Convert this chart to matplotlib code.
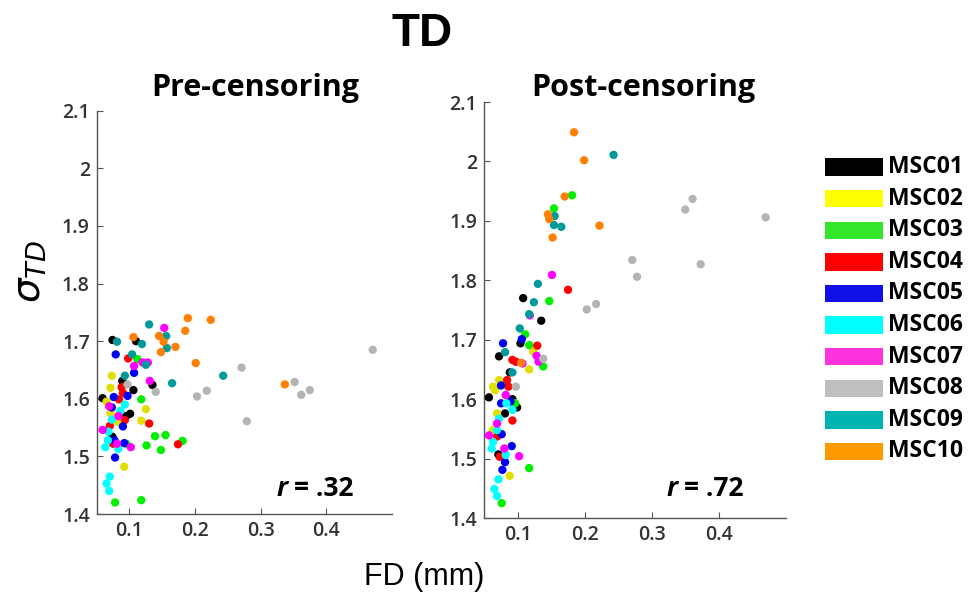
import matplotlib
matplotlib.use("Agg")
import matplotlib.pyplot as plt
from matplotlib.patches import Rectangle

subjects = ["MSC01", "MSC02", "MSC03", "MSC04", "MSC05",
            "MSC06", "MSC07", "MSC08", "MSC09", "MSC10"]
dot_colors = ["#000000", "#E0E000", "#00F000", "#FF0000", "#0000F0",
              "#00FFFF", "#FF00FF", "#B4B4B4", "#009A9A", "#FF8000"]
legend_colors = ["#000000", "#FFFF00", "#33E62B", "#FF0000", "#1010E6",
                 "#00FFFF", "#FF33DD", "#BFBFBF", "#00B3B3", "#FF9900"]

# pre-censoring: FD (mm) and sigma_TD per session
pre_fd = {
    "MSC01": [0.074, 0.110, 0.089, 0.106, 0.135, 0.059, 0.101, 0.074, 0.095],
    "MSC02": [0.073, 0.071, 0.125, 0.118, 0.071, 0.092, 0.065, 0.082],
    "MSC03": [0.112, 0.118, 0.139, 0.155, 0.126, 0.148, 0.181, 0.078, 0.118, 0.095],
    "MSC04": [0.098, 0.088, 0.090, 0.084, 0.093, 0.130, 0.174, 0.070, 0.075],
    "MSC05": [0.079, 0.107, 0.076, 0.097, 0.090, 0.078, 0.077, 0.092, 0.073],
    "MSC06": [0.093, 0.086, 0.073, 0.068, 0.063, 0.083, 0.070, 0.065, 0.069, 0.067],
    "MSC07": [0.153, 0.107, 0.120, 0.128, 0.131, 0.069, 0.083, 0.059, 0.081, 0.102],
    "MSC08": [0.097, 0.140, 0.203, 0.218, 0.271, 0.279, 0.352, 0.362, 0.375, 0.471],
    "MSC09": [0.130, 0.156, 0.081, 0.119, 0.157, 0.104, 0.125, 0.093, 0.165, 0.243],
    "MSC10": [0.189, 0.224, 0.185, 0.106, 0.145, 0.152, 0.148, 0.170, 0.201, 0.337],
}
pre_sd = {
    "MSC01": [1.702, 1.700, 1.631, 1.615, 1.624, 1.601, 1.574, 1.534, 1.570],
    "MSC02": [1.640, 1.619, 1.582, 1.562, 1.575, 1.482, 1.595, 1.560],
    "MSC03": [1.669, 1.599, 1.535, 1.537, 1.519, 1.511, 1.527, 1.420, 1.424, 1.522],
    "MSC04": [1.670, 1.620, 1.610, 1.599, 1.563, 1.557, 1.521, 1.553, 1.522],
    "MSC05": [1.677, 1.645, 1.603, 1.605, 1.552, 1.498, 1.528, 1.523, 1.585],
    "MSC06": [1.590, 1.579, 1.564, 1.543, 1.516, 1.513, 1.465, 1.453, 1.440, 1.528],
    "MSC07": [1.723, 1.657, 1.663, 1.663, 1.631, 1.587, 1.570, 1.546, 1.522, 1.516],
    "MSC08": [1.625, 1.612, 1.604, 1.614, 1.654, 1.561, 1.629, 1.607, 1.615, 1.685],
    "MSC09": [1.729, 1.709, 1.699, 1.695, 1.688, 1.677, 1.659, 1.640, 1.627, 1.640],
    "MSC10": [1.740, 1.737, 1.718, 1.707, 1.709, 1.699, 1.681, 1.690, 1.662, 1.625],
}

# post-censoring
post_fd = {
    "MSC01": [0.108, 0.135, 0.104, 0.072, 0.088, 0.057, 0.092, 0.099, 0.081, 0.071],
    "MSC02": [0.123, 0.117, 0.072, 0.066, 0.069, 0.063, 0.088, 0.063],
    "MSC03": [0.181, 0.154, 0.147, 0.111, 0.117, 0.138, 0.117, 0.076, 0.096],
    "MSC04": [0.175, 0.129, 0.092, 0.097, 0.084, 0.086, 0.092, 0.069, 0.073],
    "MSC05": [0.078, 0.106, 0.075, 0.075, 0.089, 0.076, 0.091, 0.081, 0.077],
    "MSC06": [0.083, 0.092, 0.072, 0.069, 0.063, 0.061, 0.082, 0.071, 0.065, 0.069],
    "MSC07": [0.151, 0.118, 0.128, 0.131, 0.107, 0.082, 0.069, 0.057, 0.080, 0.102],
    "MSC08": [0.097, 0.138, 0.271, 0.278, 0.203, 0.217, 0.361, 0.350, 0.470, 0.373],
    "MSC09": [0.243, 0.155, 0.154, 0.165, 0.130, 0.124, 0.117, 0.103, 0.081, 0.092],
    "MSC10": [0.184, 0.199, 0.170, 0.145, 0.147, 0.222, 0.152, 0.105],
}
post_sd = {
    "MSC01": [1.770, 1.732, 1.694, 1.672, 1.645, 1.603, 1.600, 1.586, 1.576, 1.507],
    "MSC02": [1.680, 1.650, 1.632, 1.615, 1.576, 1.548, 1.471, 1.621],
    "MSC03": [1.943, 1.921, 1.765, 1.709, 1.691, 1.655, 1.484, 1.425, 1.593],
    "MSC04": [1.784, 1.690, 1.666, 1.663, 1.632, 1.621, 1.564, 1.537, 1.503],
    "MSC05": [1.694, 1.701, 1.623, 1.593, 1.596, 1.541, 1.521, 1.494, 1.481],
    "MSC06": [1.593, 1.582, 1.567, 1.548, 1.528, 1.517, 1.506, 1.465, 1.449, 1.437],
    "MSC07": [1.809, 1.741, 1.673, 1.663, 1.660, 1.607, 1.559, 1.539, 1.517, 1.504],
    "MSC08": [1.621, 1.668, 1.834, 1.806, 1.751, 1.760, 1.937, 1.919, 1.906, 1.827],
    "MSC09": [2.011, 1.908, 1.893, 1.890, 1.794, 1.763, 1.743, 1.719, 1.679, 1.645],
    "MSC10": [2.049, 2.002, 1.941, 1.911, 1.903, 1.892, 1.872, 1.661],
}

panel_titles = ["Pre-censoring", "Post-censoring"]
r_values = ["= .32", "= .72"]
x_ticks = [0.1, 0.2, 0.3, 0.4]
y_ticks = [1.4, 1.5, 1.6, 1.7, 1.8, 1.9, 2.0, 2.1]
y_ticklabels = ["1.4", "1.5", "1.6", "1.7", "1.8", "1.9", "2", "2.1"]

W, H = 970, 594
BOLD_FONT = "Open Sans"
fig = plt.figure(figsize=(9.7, 5.94), dpi=100)


def px_box(x0, y0, x1, y1):
    return [x0 / W, 1 - y1 / H, (x1 - x0) / W, (y1 - y0) / H]


axes = [fig.add_axes(px_box(96.7, 110.7, 391.7, 514)),
        fig.add_axes(px_box(484.3, 102, 785.7, 518))]
data = [(pre_fd, pre_sd), (post_fd, post_sd)]

for ax, (fd, sd) in zip(axes, data):
    for subj, col in zip(subjects, dot_colors):
        ax.scatter(fd[subj], sd[subj], s=36, color=col, edgecolors="none", zorder=3)
    ax.set_xlim(0.05, 0.5)
    ax.set_ylim(1.4, 2.1)
    ax.set_xticks(x_ticks)
    ax.set_xticklabels([f"{t:.1f}" for t in x_ticks])
    ax.set_yticks(y_ticks)
    ax.set_yticklabels(y_ticklabels)
    for side in ["top", "right"]:
        ax.spines[side].set_visible(False)
    for side in ["left", "bottom"]:
        ax.spines[side].set_color("#555555")
        ax.spines[side].set_linewidth(1.0)
    ax.tick_params(direction="in", length=4, color="#555555", labelcolor="#333333",
                   labelsize=14, pad=5)
    for lab in ax.get_xticklabels() + ax.get_yticklabels():
        lab.set_fontfamily(BOLD_FONT)
        lab.set_fontweight("semibold")

# titles and labels
fig.text(422 / W, 1 - 34 / H, "TD", ha="center", va="center",
         fontsize=33, fontweight="bold", family="Liberation Sans")
fig.text(255 / W, 1 - 88 / H, panel_titles[0], ha="center", va="center",
         fontsize=22, fontweight="bold", family=BOLD_FONT)
fig.text(643 / W, 1 - 88 / H, panel_titles[1], ha="center", va="center",
         fontsize=22, fontweight="bold", family=BOLD_FONT)
fig.text(424 / W, 1 - 577 / H, "FD (mm)", ha="center", va="center",
         fontsize=22, family="Liberation Sans")
fig.text(30 / W, 1 - 272 / H, r"$\sigma_{TD}$", ha="center", va="center",
         fontsize=28, rotation=90)

for rx, r in zip([277, 667], r_values):
    fig.text(rx / W, 1 - 488 / H, "r", ha="left", va="center",
             fontsize=19, fontweight="bold", style="italic", family=BOLD_FONT)
    fig.text((rx + 17) / W, 1 - 488 / H, r, ha="left", va="center",
             fontsize=19, fontweight="bold", family=BOLD_FONT)

# legend drawn as colour blocks
leg = fig.add_axes([0, 0, 1, 1], facecolor="none")
leg.set_xlim(0, W)
leg.set_ylim(H, 0)
leg.axis("off")
row_y = 167.0
for name, col in zip(subjects, legend_colors):
    leg.add_patch(Rectangle((825, row_y - 8.7), 58, 17.4, color=col, lw=0))
    leg.text(888, row_y, name, ha="left", va="center", fontsize=16.5,
             fontweight="bold", family=BOLD_FONT)
    row_y += 31.6

fig.savefig("out.png", dpi=100)
